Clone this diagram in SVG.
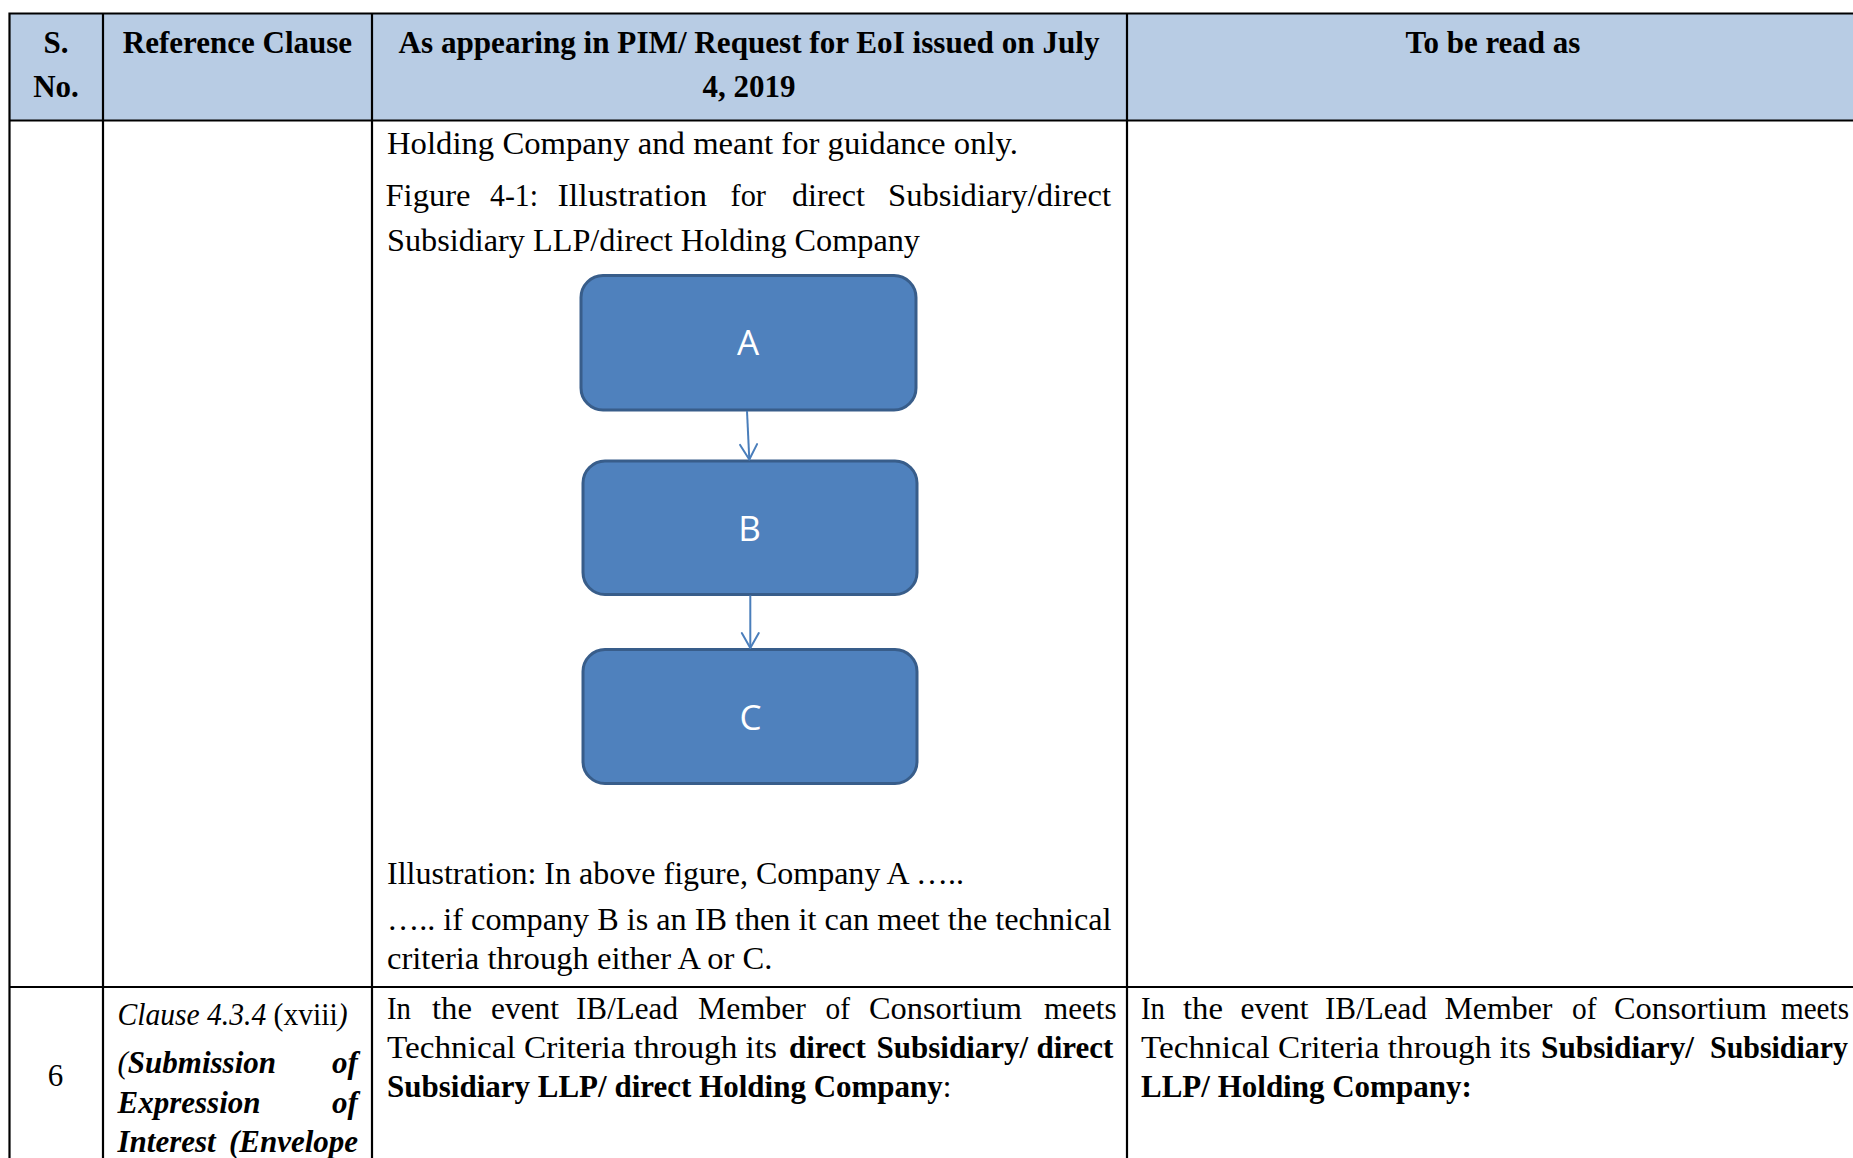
<svg xmlns="http://www.w3.org/2000/svg" width="1853" height="1158" viewBox="0 0 1853 1158">
<defs>
<style>
.t{font-family:"Liberation Serif","Times New Roman",serif;font-size:31px;fill:#000}
.b{font-weight:bold}
.i{font-style:italic}
.c{text-anchor:middle}
.grid{stroke:#000;stroke-width:2.2;fill:none}
.box{fill:#4f81bd;stroke:#385d8a;stroke-width:3}
.lbl{font-family:"Open Sans","Noto Sans","Liberation Sans",sans-serif;font-size:35px;fill:#fff;text-anchor:middle}
.edge{stroke:#4a7ebb;stroke-width:2;fill:none}
</style>
<marker id="arr" markerUnits="userSpaceOnUse" orient="auto" viewBox="-17 -11 19 22" refX="0" refY="0" markerWidth="19" markerHeight="22" overflow="visible"><path d="M-15,-8.5 L0,0 L-15,8.5" fill="none" stroke="#4a7ebb" stroke-width="2" stroke-linecap="round" stroke-linejoin="round"/></marker>
</defs>
<rect width="1853" height="1158" fill="#fff"/>
<g id="table">
<rect x="9.5" y="13.5" width="1844" height="107" fill="#b8cce4"/>
<path class="grid" d="M8.4,13.5H1853 M9.5,120.5H1853 M9.5,987H1853 M9.5,12.4V1158 M103,13.5V1158 M372,13.5V1158 M1127,13.5V1158"/>
</g>
<g id="header">
<text class="t b c" x="56" y="52.5">S.</text>
<text class="t b c" x="56" y="96.5">No.</text>
<text class="t b c" x="237.5" y="52.5">Reference Clause</text>
<text class="t b c" x="749" y="52.5" textLength="701" lengthAdjust="spacingAndGlyphs">As appearing in PIM/ Request for EoI issued on July</text>
<text class="t b c" x="749" y="96.5">4, 2019</text>
<text class="t b c" x="1493" y="52.5">To be read as</text>
</g>
<g id="row-text-upper">
<text class="t" x="387" y="153.5" textLength="631" lengthAdjust="spacingAndGlyphs">Holding Company and meant for guidance only.</text>
<text class="t" y="205.6"><tspan x="385.5" textLength="85" lengthAdjust="spacingAndGlyphs">Figure</tspan> <tspan x="490" textLength="48" lengthAdjust="spacingAndGlyphs">4-1:</tspan> <tspan x="557.5" textLength="149.5" lengthAdjust="spacingAndGlyphs">Illustration</tspan> <tspan x="730.5" textLength="35.5" lengthAdjust="spacingAndGlyphs">for</tspan> <tspan x="792" textLength="73" lengthAdjust="spacingAndGlyphs">direct</tspan> <tspan x="888" textLength="223" lengthAdjust="spacingAndGlyphs">Subsidiary/direct</tspan></text>
<text class="t" x="387" y="250.5" textLength="533" lengthAdjust="spacingAndGlyphs">Subsidiary LLP/direct Holding Company</text>
<text class="t" x="387" y="884" textLength="577" lengthAdjust="spacingAndGlyphs">Illustration: In above figure, Company A …..</text>
<text class="t" x="387" y="929.5" textLength="724.5" lengthAdjust="spacingAndGlyphs">….. if company B is an IB then it can meet the technical</text>
<text class="t" x="387" y="969" textLength="385.5" lengthAdjust="spacingAndGlyphs">criteria through either A or C.</text>
</g>
<g id="node-A">
<rect class="box" x="581" y="275.5" width="335" height="134.5" rx="22" ry="22"/>
<text class="lbl" x="748" y="355">A</text>
</g>
<g id="node-B">
<rect class="box" x="583" y="461" width="334" height="133.5" rx="22" ry="22"/>
<text class="lbl" x="749.5" y="540.5">B</text>
</g>
<g id="node-C">
<rect class="box" x="583" y="649.5" width="334" height="134" rx="22" ry="22"/>
<text class="lbl" x="750.5" y="729.8">C</text>
</g>
<g id="connectors">
<line class="edge" x1="747" y1="411" x2="749.3" y2="459.5" marker-end="url(#arr)"/>
<line class="edge" x1="750.3" y1="595.5" x2="750.3" y2="648" marker-end="url(#arr)"/>
</g>
<g id="row-6">
<text class="t c" x="55.5" y="1086">6</text>
<text class="t" x="117.5" y="1025" textLength="230" lengthAdjust="spacingAndGlyphs"><tspan class="i">Clause 4.3.4</tspan> (xviii<tspan class="i">)</tspan></text>
<text class="t i" y="1073"><tspan x="117.5">(<tspan class="b">Submission</tspan></tspan> <tspan class="b" x="332">of</tspan></text>
<text class="t i b" y="1113"><tspan x="117.5">Expression</tspan> <tspan x="332">of</tspan></text>
<text class="t i b" y="1152"><tspan x="117.5">Interest</tspan> <tspan x="229">(Envelope</tspan></text>

<text class="t" y="1018.7"><tspan x="387" textLength="24" lengthAdjust="spacingAndGlyphs">In</tspan> <tspan x="432" textLength="40" lengthAdjust="spacingAndGlyphs">the</tspan> <tspan x="491" textLength="68" lengthAdjust="spacingAndGlyphs">event</tspan> <tspan x="576" textLength="102" lengthAdjust="spacingAndGlyphs">IB/Lead</tspan> <tspan x="698" textLength="108" lengthAdjust="spacingAndGlyphs">Member</tspan> <tspan x="825.5" textLength="24.5" lengthAdjust="spacingAndGlyphs">of</tspan> <tspan x="869" textLength="153" lengthAdjust="spacingAndGlyphs">Consortium</tspan> <tspan x="1044" textLength="72.5" lengthAdjust="spacingAndGlyphs">meets</tspan></text>
<text class="t" y="1057.7"><tspan x="387" textLength="390" lengthAdjust="spacingAndGlyphs">Technical Criteria through its</tspan> <tspan class="b" x="789">direct</tspan> <tspan class="b" x="876.5">Subsidiary/</tspan> <tspan class="b" x="1036.5">direct</tspan></text>
<text class="t" x="387" y="1096.7"><tspan class="b">Subsidiary LLP/ direct Holding Company</tspan>:</text>

<text class="t" y="1018.7"><tspan x="1141" textLength="24" lengthAdjust="spacingAndGlyphs">In</tspan> <tspan x="1183" textLength="40" lengthAdjust="spacingAndGlyphs">the</tspan> <tspan x="1240.5" textLength="68" lengthAdjust="spacingAndGlyphs">event</tspan> <tspan x="1325" textLength="102" lengthAdjust="spacingAndGlyphs">IB/Lead</tspan> <tspan x="1444.5" textLength="108" lengthAdjust="spacingAndGlyphs">Member</tspan> <tspan x="1572" textLength="24.5" lengthAdjust="spacingAndGlyphs">of</tspan> <tspan x="1614" textLength="153" lengthAdjust="spacingAndGlyphs">Consortium</tspan> <tspan x="1781" textLength="68" lengthAdjust="spacingAndGlyphs">meets</tspan></text>
<text class="t" y="1057.7"><tspan x="1141" textLength="390" lengthAdjust="spacingAndGlyphs">Technical Criteria through its</tspan> <tspan class="b" x="1541" textLength="153" lengthAdjust="spacingAndGlyphs">Subsidiary/</tspan> <tspan class="b" x="1710" textLength="138" lengthAdjust="spacingAndGlyphs">Subsidiary</tspan></text>
<text class="t b" x="1141" y="1096.7">LLP/ Holding Company:</text>
</g>
</svg>
